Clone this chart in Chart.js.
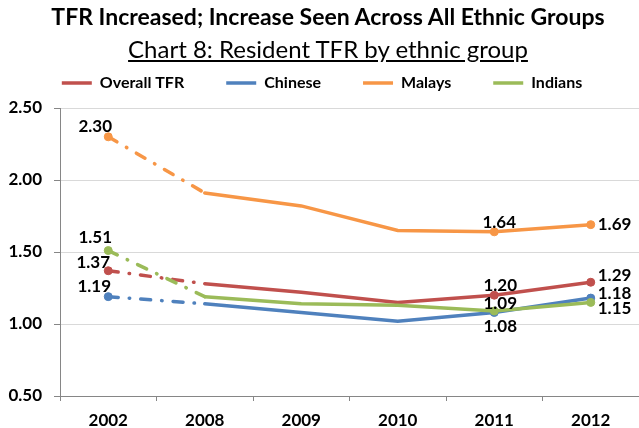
<!DOCTYPE html>
<html>
<head>
<meta charset="utf-8">
<script src="https://cdn.jsdelivr.net/npm/chart.js@4.4.0/dist/chart.umd.min.js"></script>
<style>
  body { margin: 0; width: 639px; height: 428px; overflow: hidden; background: #fff; position: relative; font-family: Lato, sans-serif; }
  #c { position: absolute; left: 0; top: 0; }
  .title { position: absolute; left: 0; width: 656px; text-align: center; color: #000; white-space: nowrap; }
  #t1 { top: 5px; font-size: 23px; line-height: 23px; font-weight: bold; }
  #t2 { top: 37px; font-size: 24px; line-height: 24px; text-decoration: underline; }
</style>
</head>
<body>
<canvas id="c" width="644" height="428"></canvas>
<div class="title" id="t1">TFR Increased; Increase Seen Across All Ethnic Groups</div>
<div class="title" id="t2">Chart 8: Resident TFR by ethnic group</div>
<script>
const years = ['2002', '2008', '2009', '2010', '2011', '2012']
const overallTFR = [1.37, 1.28, 1.22, 1.15, 1.20, 1.29]
const chinese = [1.19, 1.14, 1.08, 1.02, 1.08, 1.18]
const malays = [2.30, 1.91, 1.82, 1.65, 1.64, 1.69]
const indians = [1.51, 1.19, 1.14, 1.13, 1.09, 1.15]
const yTicks = [0.5, 1.0, 1.5, 2.0, 2.5]
const markers = [4, 0, 0, 0, 4, 4]

// where each value label sits relative to its point: [dx, dy, align]
const spots = {
    overall: { 0: [-15, -8], 4: [6, -10], 5: [7, -7, 'left'] },
    chinese: { 0: [-14, -10], 4: [6, 14], 5: [7, -5, 'left'] },
    malays: { 0: [-13, -10], 4: [5, -9], 5: [7, 0, 'left'] },
    indians: { 0: [-13, -13], 4: [6, -8], 5: [7, 6, 'left'] }
}

function series(label, data, color, order, labelSpots) {
    return {
        label: label,
        data: data,
        borderColor: color,
        backgroundColor: color,
        borderWidth: 3.5,
        borderCapStyle: 'round',
        pointRadius: markers,
        pointBackgroundColor: color,
        pointBorderColor: color,
        pointBorderWidth: 1,
        tension: 0,
        order: order,
        labelSpots: labelSpots,
        segment: {
            borderDash: ctx => ctx.p0DataIndex === 0 ? [10, 11, 0.5, 11] : undefined
        }
    }
}

const pointLabels = {
    id: 'pointLabels',
    afterDatasetsDraw(chart) {
        const ctx = chart.ctx
        ctx.save()
        ctx.font = 'bold 17px Lato'
        ctx.fillStyle = '#000'
        ctx.textBaseline = 'middle'
        chart.data.datasets.forEach((ds, i) => {
            const meta = chart.getDatasetMeta(i)
            Object.keys(ds.labelSpots).forEach(idx => {
                const pt = meta.data[idx]
                const s = ds.labelSpots[idx]
                ctx.textAlign = s[2] || 'center'
                ctx.fillText(ds.data[idx].toFixed(2), pt.x + s[0], pt.y + s[1])
            })
        })
        ctx.restore()
    }
}

// keep the legend box short so the plot starts where it should
const legendHeight = {
    id: 'legendHeight',
    beforeInit(chart) {
        const fit = chart.legend.fit
        chart.legend.fit = function () {
            fit.bind(chart.legend)()
            this.height = 75
        }
    }
}

const defaultLabels = Chart.defaults.plugins.legend.labels.generateLabels

const chart = new Chart(document.getElementById('c'), {
    type: 'line',
    data: {
        labels: years,
        datasets: [
            series('Overall TFR', overallTFR, '#C0504D', 4, spots.overall),
            series('Chinese', chinese, '#4F81BD', 3, spots.chinese),
            series('Malays', malays, '#F79646', 2, spots.malays),
            series('Indians', indians, '#9BBB59', 1, spots.indians)
        ]
    },
    options: {
        responsive: false,
        animation: false,
        devicePixelRatio: 1,
        layout: { padding: { top: 33, left: 0, right: 0, bottom: 0 } },
        plugins: {
            legend: {
                position: 'top',
                labels: {
                    usePointStyle: true,
                    pointStyle: 'line',
                    pointStyleWidth: 30,
                    padding: 42,
                    color: '#000',
                    font: { family: 'Lato', size: 16, weight: 'bold' },
                    generateLabels: c => defaultLabels(c).map(l => Object.assign(l, { lineWidth: 3.5 })),
                    sort: (a, b) => a.datasetIndex - b.datasetIndex
                }
            },
            tooltip: { enabled: false }
        },
        scales: {
            x: {
                offset: true,
                afterFit: scale => { scale.height = 32 },
                grid: { offset: true, drawOnChartArea: false, tickLength: 5, tickColor: '#868686' },
                border: { color: '#868686', width: 1 },
                ticks: {
                    padding: 9,
                    color: '#000',
                    font: { family: 'Lato', size: 17, weight: 'bold' }
                }
            },
            y: {
                min: 0.5,
                max: 2.5,
                afterFit: scale => { scale.width = 60 },
                afterBuildTicks: scale => { scale.ticks = yTicks.map(v => ({ value: v })) },
                grid: { color: '#d9d9d9', tickLength: 6, tickColor: '#868686' },
                border: { color: '#868686', width: 1 },
                ticks: {
                    padding: 12,
                    color: '#000',
                    font: { family: 'Lato', size: 17, weight: 'bold' },
                    callback: v => v.toFixed(2)
                }
            }
        }
    },
    plugins: [pointLabels, legendHeight]
})
</script>
</body>
</html>
